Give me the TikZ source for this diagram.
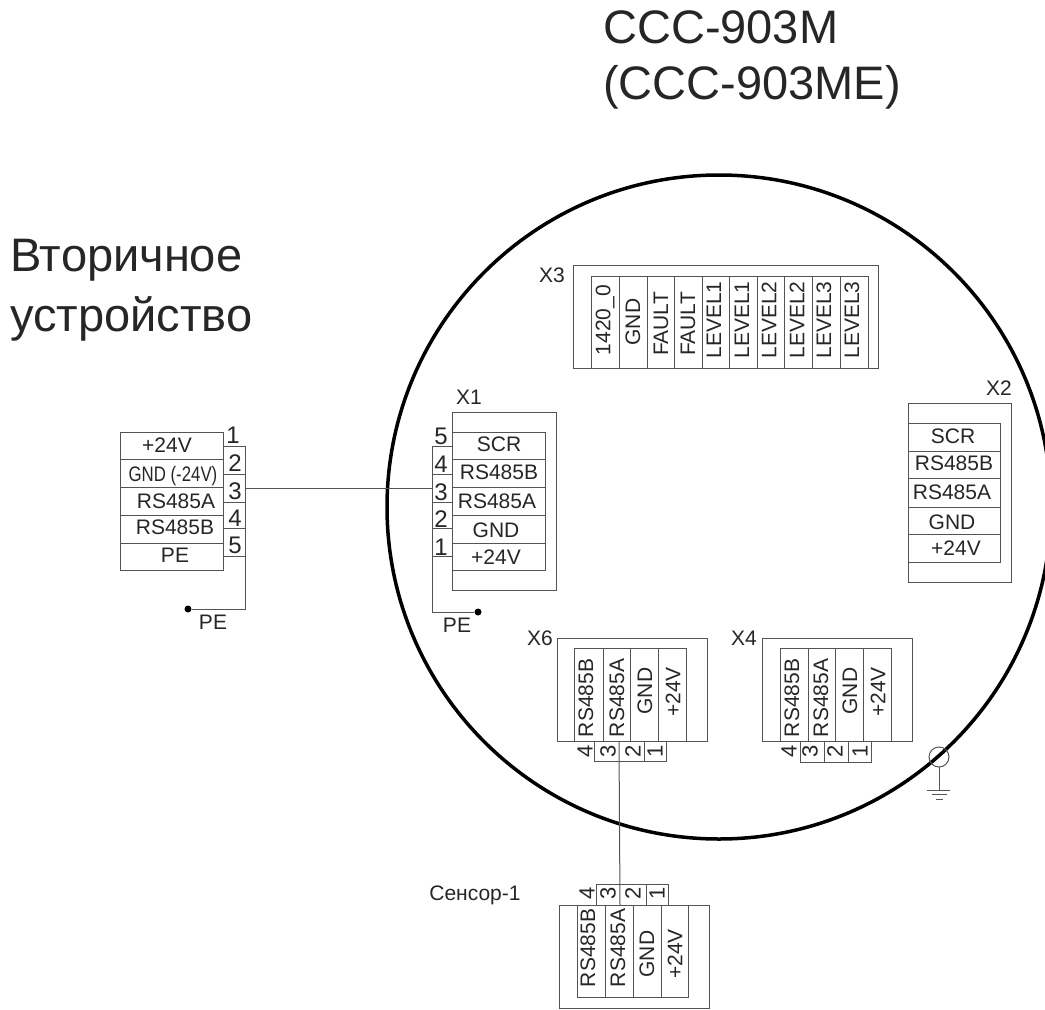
\documentclass[tikz,border=0pt]{standalone}
\usepackage{xcolor}
\usepackage{fontspec}
\setmainfont{Liberation Sans}
\usepackage{tikz}
\definecolor{wiregray}{gray}{0.33}
\tikzset{
    wire/.style = {color = wiregray, line width = 1pt},
    lbl/.style = {inner sep = 0pt, font = \fontsize{21}{25}\selectfont, color = black!85},
    vlbl/.style = {lbl, rotate = 90},
    pinlbl/.style = {lbl, font = \fontsize{24}{28}\selectfont},
    vpinlbl/.style = {lbl, rotate = 90, font = \fontsize{22}{26}\selectfont},
    title/.style = {inner sep = 0pt, anchor = west, font = \fontsize{47}{56}\selectfont, color = black!85},
    pedot/.style = {circle, fill = black, inner sep = 0pt, minimum size = 7pt}
}
\begin{document}
\begin{tikzpicture}[x = 1pt, y = -1pt]
        \useasboundingbox (0, 0) rectangle (1045, 1010);

        \draw [line width = 3.5pt] (719, 507) circle [radius = 332pt];

        \node [title] (titleone) at (603, 27.5) {CCC-903M};
        \node [title] (titletwo) at (603, 87) {(CCC-903ME)};
        \node [title] (hostone) at (10, 260) {Вторичное};
        \node [title] (hosttwo) at (10, 318.5) {устройство};

        \draw [wire] (120, 432) rectangle (223, 570);
        \draw [wire] (120, 459) -- (223, 459);
        \draw [wire] (120, 487) -- (223, 487);
        \draw [wire] (120, 515) -- (223, 515);
        \draw [wire] (120, 543) -- (223, 543);
        \draw [wire] (223, 446) -- (245, 446);
        \draw [wire] (223, 474) -- (245, 474);
        \draw [wire] (223, 502) -- (245, 502);
        \draw [wire] (223, 528) -- (245, 528);
        \draw [wire] (223, 556) -- (245, 556);
        \coordinate (hostthree) at (245, 488);
        \coordinate (hosttop) at (245, 446);
        \node [pedot] (hostdot) at (188, 609) {};
        \draw [wire] (hosttop) |- (hostdot);

        \node [pinlbl] (hnone) at (233, 435) {1};
        \node [pinlbl] (hntwo) at (235, 463) {2};
        \node [pinlbl] (hnthree) at (235, 491) {3};
        \node [pinlbl] (hnfour) at (235, 518) {4};
        \node [pinlbl] (hnfive) at (235, 545) {5};
        \node [lbl] (hpos) at (167, 445) {+24V};
        \node [lbl, xscale = 0.8] (hgnd) at (173, 476) {GND (-24V)};
        \node [lbl] (hrsa) at (176, 501) {RS485A};
        \node [lbl] (hrsb) at (175, 527) {RS485B};
        \node [lbl] (hpe) at (175, 555) {PE};
        \node [lbl] (hostpe) at (213, 622) {PE};

        \draw [wire] (452, 412) rectangle (556, 590);
        \draw [wire] (452, 432) -- (545, 432) -- (545, 570) -- (452, 570);
        \draw [wire] (452, 459) -- (545, 459);
        \draw [wire] (452, 487) -- (545, 487);
        \draw [wire] (452, 515) -- (545, 515);
        \draw [wire] (452, 543) -- (545, 543);
        \draw [wire] (432, 446) -- (452, 446);
        \draw [wire] (432, 474) -- (452, 474);
        \draw [wire] (432, 502) -- (452, 502);
        \draw [wire] (432, 528) -- (452, 528);
        \draw [wire] (432, 556) -- (452, 556);
        \coordinate (xonethree) at (432, 488);
        \coordinate (xonetop) at (432, 446);
        \node [pedot] (xonedot) at (478, 612) {};
        \draw [wire] (xonetop) |- (xonedot);
        \draw [wire] (hostthree) -- (xonethree);

        \node [lbl] (xone) at (469, 397) {X1};
        \node [pinlbl] (onfive) at (441, 436) {5};
        \node [pinlbl] (onfour) at (441, 464) {4};
        \node [pinlbl] (onthree) at (441, 492) {3};
        \node [pinlbl] (ontwo) at (441, 519) {2};
        \node [pinlbl] (onone) at (441, 547) {1};
        \node [lbl] (oscr) at (499, 444) {SCR};
        \node [lbl] (orsb) at (499, 472) {RS485B};
        \node [lbl] (orsa) at (497, 501) {RS485A};
        \node [lbl] (ognd) at (496, 530) {GND};
        \node [lbl] (opos) at (496, 557) {+24V};
        \node [lbl] (xonepe) at (457, 625) {PE};

        \draw [wire] (908, 403) rectangle (1011, 582);
        \draw [wire] (908, 423) -- (1000, 423) -- (1000, 562) -- (908, 562);
        \draw [wire] (908, 451) -- (1000, 451);
        \draw [wire] (908, 478) -- (1000, 478);
        \draw [wire] (908, 507) -- (1000, 507);
        \draw [wire] (908, 534) -- (1000, 534);

        \node [lbl] (xtwo) at (999, 388) {X2};
        \node [lbl] (tscr) at (953, 436) {SCR};
        \node [lbl] (trsb) at (954, 463) {RS485B};
        \node [lbl] (trsa) at (952, 492) {RS485A};
        \node [lbl] (tgnd) at (952, 522) {GND};
        \node [lbl] (tpos) at (956, 548) {+24V};

        \draw [wire] (573, 265) rectangle (878, 368);
        \draw [wire] (591, 368) -- (591, 276) -- (868, 276) -- (868, 368);
        \draw [wire] (619, 276) -- (619, 368);
        \draw [wire] (647, 276) -- (647, 368);
        \draw [wire] (674, 276) -- (674, 368);
        \draw [wire] (702, 276) -- (702, 368);
        \draw [wire] (729, 276) -- (729, 368);
        \draw [wire] (757, 276) -- (757, 368);
        \draw [wire] (784, 276) -- (784, 368);
        \draw [wire] (812, 276) -- (812, 368);
        \draw [wire] (840, 276) -- (840, 368);

        \node [lbl] (xthree) at (552, 275) {X3};
        \node [vlbl] (lzero) at (605, 320) {1420\_0};
        \node [vlbl] (lgnd) at (633, 322) {GND};
        \node [vlbl] (lfaulta) at (661, 324) {FAULT};
        \node [vlbl] (lfaultb) at (688, 324) {FAULT};
        \node [vlbl] (llevela) at (714, 320) {LEVEL1};
        \node [vlbl] (llevelb) at (742, 320) {LEVEL1};
        \node [vlbl] (llevelc) at (769, 320) {LEVEL2};
        \node [vlbl] (lleveld) at (797, 320) {LEVEL2};
        \node [vlbl] (llevele) at (824, 320) {LEVEL3};
        \node [vlbl] (llevelf) at (852, 320) {LEVEL3};

        \draw [wire] (557, 638) rectangle (707, 741);
        \draw [wire] (574, 741) -- (574, 648) -- (686, 648) -- (686, 741);
        \draw [wire] (603, 648) -- (603, 741);
        \draw [wire] (630, 648) -- (630, 741);
        \draw [wire] (658, 648) -- (658, 741);
        \draw [wire] (594, 741) -- (594, 761) -- (666, 761) -- (666, 741);
        \draw [wire] (644, 741) -- (644, 761);

        \node [lbl] (xsix) at (540, 638) {X6};
        \node [vlbl] (srsb) at (586, 698) {RS485B};
        \node [vlbl] (srsa) at (617, 698) {RS485A};
        \node [vlbl] (sgnd) at (645, 691) {GND};
        \node [vlbl] (spos) at (673, 692) {+24V};
        \node [vpinlbl] (snfour) at (585, 751) {4};
        \node [vpinlbl] (snthree) at (608, 751) {3};
        \node [vpinlbl] (sntwo) at (633, 751) {2};
        \node [vpinlbl] (snone) at (655, 751) {1};

        \draw [wire] (762, 638) rectangle (912, 741);
        \draw [wire] (780, 741) -- (780, 648) -- (891, 648) -- (891, 741);
        \draw [wire] (808, 648) -- (808, 741);
        \draw [wire] (835, 648) -- (835, 741);
        \draw [wire] (863, 648) -- (863, 741);
        \draw [wire] (800, 741) -- (800, 762) -- (871, 762) -- (871, 741);
        \draw [wire] (824, 741) -- (824, 762);
        \draw [wire] (848, 741) -- (848, 762);

        \node [lbl] (xfour) at (744, 638) {X4};
        \node [vlbl] (frsb) at (792, 698) {RS485B};
        \node [vlbl] (frsa) at (821, 698) {RS485A};
        \node [vlbl] (fgnd) at (850, 691) {GND};
        \node [vlbl] (fpos) at (878, 692) {+24V};
        \node [vpinlbl] (fnfour) at (789, 751) {4};
        \node [vpinlbl] (fnthree) at (810, 751) {3};
        \node [vpinlbl] (fntwo) at (835, 751) {2};
        \node [vpinlbl] (fnone) at (860, 751) {1};

        \draw [wire] (939, 757) circle [radius = 10pt];
        \draw [wire] (939, 767) -- (939, 790);
        \draw [wire] (927, 790) -- (950, 790);
        \draw [wire] (932, 794) -- (947, 794);
        \draw [wire] (936, 799) -- (943, 799);

        \draw [wire] (559, 905) rectangle (709, 1008);
        \draw [wire] (577, 905) -- (577, 997) -- (688, 997) -- (688, 905);
        \draw [wire] (605, 905) -- (605, 997);
        \draw [wire] (633, 905) -- (633, 997);
        \draw [wire] (661, 905) -- (661, 997);
        \draw [wire] (596, 905) -- (596, 884) -- (668, 884) -- (668, 905);
        \draw [wire] (646, 884) -- (646, 905);
        \coordinate (sixthree) at (619, 741);
        \coordinate (sensorthree) at (620, 905);
        \draw [wire] (sixthree) -- (sensorthree);

        \node [lbl] (sensor) at (475, 895) {Сенсор-1};
        \node [vlbl] (ersb) at (588, 948) {RS485B};
        \node [vlbl] (ersa) at (618, 948) {RS485A};
        \node [vlbl] (egnd) at (647, 954) {GND};
        \node [vlbl] (epos) at (675, 954) {+24V};
        \node [vpinlbl] (enfour) at (587, 893) {4};
        \node [vpinlbl] (enthree) at (608, 893) {3};
        \node [vpinlbl] (entwo) at (633, 893) {2};
        \node [vpinlbl] (enone) at (657, 893) {1};
\end{tikzpicture}
\end{document}
